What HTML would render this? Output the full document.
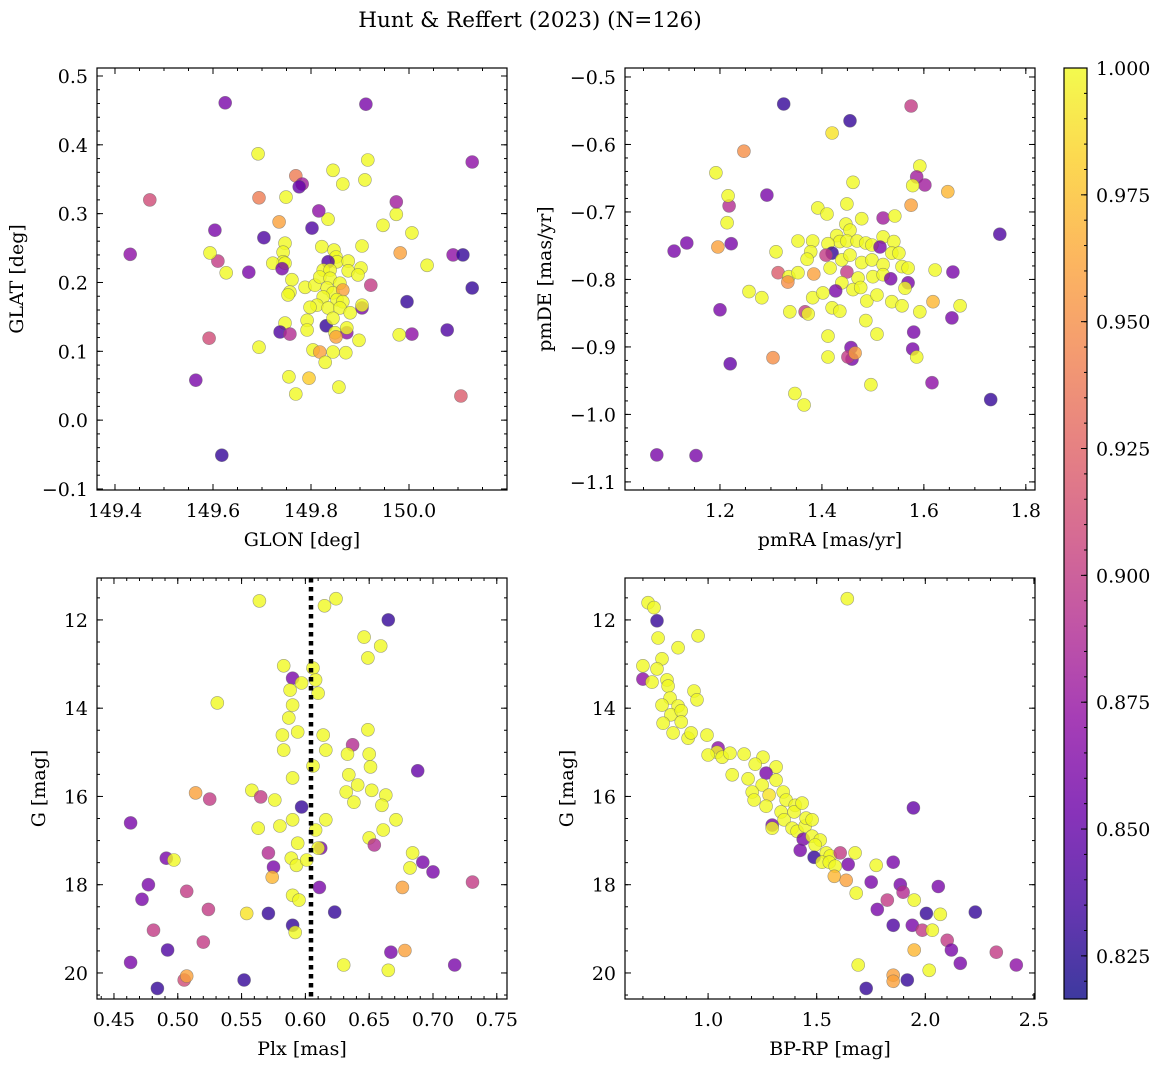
<!DOCTYPE html>
<html><head><meta charset="utf-8"><style>
html,body{margin:0;padding:0;background:#fff;}
svg{display:block;font-family:"DejaVu Serif","Liberation Serif",serif;}
</style></head><body>
<svg id="fig" width="1161" height="1067" viewBox="0 0 1161 1067" xmlns="http://www.w3.org/2000/svg">
<defs>
<linearGradient id="plasma" x1="0" y1="1" x2="0" y2="0">
<stop offset="0" stop-color="#0d0887"/><stop offset="0.1" stop-color="#41049d"/><stop offset="0.2" stop-color="#6a00a8"/><stop offset="0.3" stop-color="#8f0da4"/><stop offset="0.4" stop-color="#b12a90"/><stop offset="0.5" stop-color="#cc4778"/><stop offset="0.6" stop-color="#e16462"/><stop offset="0.7" stop-color="#f2844b"/><stop offset="0.8" stop-color="#fca636"/><stop offset="0.9" stop-color="#fcce25"/><stop offset="1" stop-color="#f0f921"/>
</linearGradient>
</defs>
<text x="530" y="27" font-size="21.5" text-anchor="middle">Hunt &amp; Reffert (2023) (N=126)</text>
</svg>
<script>
// ---- data ----
const p1Lon=[149.471,149.431,149.625,149.912,150.129,149.604,149.610,149.627,149.594,149.592,149.565,149.618,150.006,149.982,149.996,150.006,150.037,150.078,150.090,150.110,150.129,150.106,149.980,
149.747,149.743,149.743,149.722,149.747,149.741,149.761,149.757,149.753,149.788,149.808,149.822,149.847,149.851,149.853,149.835,149.876,149.876,149.902,149.896,149.904,149.922,149.825,149.839,149.818,149.839,149.859,149.833,149.845,149.865,149.825,149.853,149.865,149.812,149.798,149.835,149.859,149.880,149.904,149.904,149.792,149.831,149.845,149.792,149.747,149.737,149.757,149.849,149.873,149.851,149.873,149.898,149.694,149.804,149.818,149.845,149.871,149.829,149.755,149.796,149.857,149.769,149.692,149.845,149.916,149.865,149.910,149.749,149.694,149.769,149.782,149.776,149.735,149.835,149.816,149.802,149.704,149.673,149.947,149.974,149.974];
const p1Lat=[0.320,0.241,0.461,0.459,0.375,0.276,0.231,0.214,0.243,0.119,0.058,-0.051,0.272,0.243,0.172,0.125,0.225,0.131,0.240,0.240,0.192,0.035,0.124,
0.257,0.244,0.230,0.228,0.228,0.220,0.204,0.186,0.182,0.193,0.196,0.252,0.247,0.237,0.230,0.230,0.231,0.217,0.221,0.211,0.253,0.196,0.218,0.218,0.208,0.206,0.199,0.192,0.185,0.189,0.179,0.175,0.172,0.167,0.164,0.163,0.163,0.156,0.163,0.167,0.145,0.137,0.148,0.131,0.141,0.128,0.125,0.127,0.127,0.121,0.134,0.116,0.106,0.102,0.099,0.099,0.098,0.084,0.063,0.061,0.048,0.038,0.387,0.363,0.378,0.343,0.349,0.324,0.323,0.355,0.343,0.339,0.288,0.292,0.304,0.279,0.265,0.215,0.283,0.299,0.317];
const p1C=[0.91,0.87,0.86,0.86,0.87,0.86,0.90,1,1,0.91,0.86,0.83,1,0.96,0.83,0.87,1,0.84,0.87,0.83,0.83,0.92,1,
1,1,1,1,1,0.86,1,1,1,1,1,1,1,1,1,0.84,1,1,1,1,1,0.90,1,1,1,1,1,1,1,0.96,1,1,1,1,1,1,1,1,0.86,1,1,0.83,1,1,1,0.84,0.89,1,0.87,0.96,1,1,1,1,0.96,1,1,1,1,0.98,1,1,1,1,1,1,1,1,0.94,0.94,0.88,0.85,0.96,1,0.87,0.84,0.84,0.86,1,1,0.88];

const p2RA=[1.076,1.153,1.110,1.135,1.218,1.222,1.200,1.220,1.192,1.196,1.214,1.216,1.247,1.257,1.292,1.304,1.325,1.420,1.455,1.575,1.592,1.586,1.602,1.647,1.578,1.749,1.671,1.657,1.655,1.622,1.618,1.616,1.731,1.580,1.578,1.586,1.575,1.496,1.347,1.365,1.310,1.282,1.314,1.337,1.457,1.459,1.451,1.465,1.461,
1.392,1.410,1.449,1.478,1.520,1.543,1.447,1.455,1.353,1.382,1.429,1.435,1.449,1.469,1.486,1.498,1.520,1.541,1.378,1.371,1.412,1.420,1.408,1.439,1.455,1.478,1.498,1.514,1.520,1.537,1.551,1.557,1.569,1.416,1.449,1.471,1.500,1.520,1.535,1.569,1.563,1.335,1.333,1.353,1.384,1.439,1.427,1.461,1.476,1.382,1.402,1.488,1.508,1.537,1.557,1.592,1.367,1.373,1.420,1.435,1.412,1.486,1.508,1.412];
const p2DE=[-1.060,-1.061,-0.758,-0.746,-0.691,-0.747,-0.845,-0.925,-0.642,-0.752,-0.716,-0.676,-0.610,-0.818,-0.675,-0.916,-0.540,-0.583,-0.565,-0.543,-0.632,-0.648,-0.660,-0.670,-0.661,-0.733,-0.839,-0.789,-0.857,-0.786,-0.833,-0.953,-0.978,-0.878,-0.903,-0.915,-0.690,-0.956,-0.969,-0.986,-0.759,-0.827,-0.790,-0.848,-0.901,-0.918,-0.915,-0.909,-0.656,
-0.694,-0.703,-0.688,-0.710,-0.709,-0.706,-0.718,-0.727,-0.743,-0.743,-0.735,-0.744,-0.743,-0.743,-0.746,-0.749,-0.737,-0.744,-0.759,-0.770,-0.747,-0.761,-0.764,-0.771,-0.764,-0.775,-0.771,-0.752,-0.778,-0.761,-0.761,-0.781,-0.783,-0.783,-0.789,-0.798,-0.796,-0.793,-0.799,-0.805,-0.813,-0.796,-0.804,-0.790,-0.792,-0.805,-0.817,-0.815,-0.812,-0.827,-0.820,-0.832,-0.823,-0.833,-0.839,-0.848,-0.848,-0.851,-0.842,-0.847,-0.884,-0.861,-0.881,-0.915];
const p2C=[0.86,0.86,0.86,0.86,0.89,0.86,0.86,0.85,1,0.96,1,1,0.95,1,0.86,0.95,0.83,0.99,0.83,0.90,1,0.88,0.88,0.97,1,0.84,1,0.86,0.86,1,0.97,0.87,0.83,0.86,0.86,1,0.96,1,1,1,1,1,0.92,1,0.86,0.86,0.90,0.96,1,
1,1,1,1,0.88,1,1,1,1,1,1,1,1,1,1,1,1,1,1,1,1,0.83,0.90,1,1,1,1,0.86,1,1,1,1,1,1,0.90,1,1,1,0.86,0.86,1,1,0.95,1,0.96,1,0.86,1,1,1,1,1,1,1,1,1,0.90,1,1,1,1,1,1,1];

const p3Plx=[0.564,0.615,0.624,0.665,0.646,0.659,0.649,0.583,0.606,0.608,0.590,0.597,0.588,0.610,0.590,0.531,0.587,0.594,0.614,0.582,0.649,0.637,0.583,0.616,0.633,0.650,0.590,0.634,0.606,0.632,0.638,0.651,0.652,0.663,0.641,0.688,0.558,0.514,0.525,0.565,0.576,0.597,0.590,0.580,0.563,0.594,0.608,0.650,0.654,0.671,0.661,0.660,0.616,0.612,0.571,0.575,0.589,0.593,0.601,0.610,0.574,0.590,0.611,0.595,0.590,0.592,0.571,0.554,0.623,0.682,0.692,0.700,0.684,0.676,0.731,0.630,0.665,0.667,0.678,0.717,0.463,0.491,0.497,0.477,0.472,0.507,0.481,0.524,0.520,0.492,0.463,0.484,0.505,0.507,0.552];
const p3G=[11.57,11.68,11.52,12.00,12.39,12.59,12.86,13.04,13.09,13.36,13.32,13.43,13.59,13.66,13.93,13.88,14.22,14.54,14.61,14.61,14.49,14.83,14.95,14.95,15.04,15.04,15.58,15.51,15.31,15.90,16.13,15.33,15.86,15.97,15.74,15.42,15.86,15.92,16.06,16.01,16.08,16.24,16.53,16.67,16.72,17.06,16.76,16.94,17.10,16.53,16.76,16.20,16.53,17.17,17.28,17.60,17.40,17.56,17.44,17.17,17.83,18.24,18.06,18.35,18.92,19.08,18.65,18.65,18.62,17.62,17.49,17.71,17.28,18.06,17.94,19.82,19.94,19.53,19.49,19.82,16.60,17.40,17.44,18.00,18.33,18.15,19.03,18.56,19.30,19.48,19.76,20.35,20.16,20.07,20.16];
const p3C=[1,1,1,0.83,1,1,1,1,1,1,0.86,1,1,1,1,1,1,1,1,1,1,0.89,1,1,1,1,1,1,1,1,1,1,1,1,1,0.85,1,0.96,0.90,0.90,1,0.83,1,1,1,1,1,1,0.89,1,1,1,1,0.86,0.89,0.86,1,1,1,1,0.97,1,0.86,1,0.83,1,0.83,0.99,0.83,1,0.86,0.86,1,0.96,0.90,1,1,0.86,0.96,0.86,0.86,0.86,1,0.86,0.86,0.90,0.90,0.90,0.90,0.84,0.86,0.83,0.91,0.96,0.83];

const p4BR=[0.724,0.751,0.765,1.641,0.954,0.862,0.770,0.788,0.700,0.700,0.765,0.742,0.811,0.816,0.825,0.935,0.949,0.862,0.788,0.829,0.876,0.793,0.839,0.908,0.922,0.876,0.995,1.046,1.041,1.000,1.065,1.101,1.166,1.253,1.217,1.313,1.267,1.111,1.184,1.313,1.249,1.203,1.281,1.212,1.346,1.267,1.336,1.359,1.401,1.396,1.433,1.295,1.295,1.350,1.387,1.410,1.447,1.451,1.479,1.438,1.479,1.516,1.424,1.493,1.488,1.544,1.562,1.525,1.558,1.585,1.581,1.608,1.677,1.645,1.636,1.682,1.774,1.751,1.852,1.945,1.779,1.825,1.852,1.885,1.898,1.949,2.060,1.940,2.005,1.986,2.032,2.069,2.101,2.120,2.161,2.230,2.327,2.419,1.691,1.728,1.852,1.852,1.917,1.949,2.018];
const p4G=[11.61,11.72,12.02,11.52,12.36,12.63,12.41,12.88,13.04,13.34,13.11,13.41,13.36,13.50,13.77,13.61,13.81,13.95,13.93,14.15,14.06,14.34,14.56,14.68,14.56,14.31,14.61,14.90,15.00,15.06,15.11,15.02,15.04,15.11,15.27,15.33,15.47,15.51,15.60,15.63,15.74,15.90,15.97,16.08,15.90,16.22,16.35,16.08,16.20,16.35,16.15,16.65,16.72,16.53,16.72,16.79,16.67,16.49,16.53,16.97,16.90,16.99,17.22,17.10,17.38,17.28,17.35,17.49,17.49,17.58,17.81,17.28,17.28,17.54,17.90,18.19,17.56,17.94,17.49,16.26,18.56,18.35,18.92,18.00,18.17,18.35,18.04,18.92,18.65,19.03,19.03,18.67,19.26,19.48,19.78,18.62,19.53,19.82,19.82,20.35,20.05,20.19,20.16,19.48,19.94];
const p4C=[1,1,0.83,1,1,1,1,1,1,0.87,1,1,1,1,1,1,1,1,1,1,1,1,1,1,1,1,1,0.87,1,1,1,1,1,1,1,1,0.86,1,1,1,1,1,0.99,1,1,1,1,1,1,1,1,0.86,1,1,1,1,1,1,1,0.86,1,1,0.86,1,0.83,1,1,1,1,1,0.97,0.90,1,0.86,0.96,1,1,0.86,0.86,0.85,0.86,0.90,0.84,0.86,0.89,1,0.86,0.86,0.83,0.90,1,1,0.90,0.86,0.86,0.83,0.90,0.87,1,0.83,0.96,0.96,0.83,0.97,1];

const cbTicks=[0.825,0.850,0.875,0.900,0.925,0.950,0.975,1.000];
const plxLine=[0.6044];

// ---- helpers ----
const NS="http://www.w3.org/2000/svg";
const svg=document.getElementById('fig');
const TICKFS=19, LABFS=19;
function mk(tag,attrs,parent){const e=document.createElementNS(NS,tag);for(const k in attrs)e.setAttribute(k,attrs[k]);(parent||svg).appendChild(e);return e;}
const stops=[[13,8,135],[65,4,157],[106,0,168],[143,13,164],[177,42,144],[204,71,120],[225,100,98],[242,132,75],[252,166,54],[252,206,37],[240,249,33]];
const CMIN=0.8165,CMAX=1.0;
function cmap(v){let t=(v-CMIN)/(CMAX-CMIN);t=Math.max(0,Math.min(1,t))*10;const i=Math.min(9,Math.floor(t)),f=t-i;const a=stops[i],b=stops[i+1];return 'rgb('+[0,1,2].map(k=>Math.round(a[k]+(b[k]-a[k])*f)).join(',')+')';}
function fmt(v,d){let s=v.toFixed(d);if(s.startsWith('-'))s='\u2212'+s.slice(1);return s;}

function axes(o){
  const g=mk('g',{});
  
  
  const X=v=>o.x0+(v-o.xmin)/(o.xmax-o.xmin)*(o.x1-o.x0);
  const Y=o.invY?(v=>o.y0+(v-o.ymin)/(o.ymax-o.ymin)*(o.y1-o.y0)):(v=>o.y1-(v-o.ymin)/(o.ymax-o.ymin)*(o.y1-o.y0));
  const pts=mk('g',{},g);
  
  
  for(let i=0;i<o.xs.length;i++){
    const c=mk('circle',{cx:X(o.xs[i]).toFixed(1),cy:Y(o.ys[i]).toFixed(1),r:6.5,fill:cmap(o.cs[i]),'fill-opacity':0.8,stroke:'#666','stroke-opacity':0.6,'stroke-width':0.6},pts);
    
    
  }
  if(o.extra)o.extra(g,X,Y);
  const fr=mk('rect',{x:o.x0,y:o.y0,width:o.x1-o.x0,height:o.y1-o.y0,fill:'none',stroke:'#000','stroke-width':1.2},g);
  
  
  const tk=mk('g',{stroke:'#000','stroke-width':1},g);
  for(let v=o.xMinorStart;v<=o.xmax+1e-9;v+=o.xMinor){const px=X(v);if(px<o.x0||px>o.x1)continue;mk('line',{x1:px,x2:px,y1:o.y1,y2:o.y1-3},tk);mk('line',{x1:px,x2:px,y1:o.y0,y2:o.y0+3},tk);}
  o.xTicks.forEach(v=>{const px=X(v);mk('line',{x1:px,x2:px,y1:o.y1,y2:o.y1-6},tk);mk('line',{x1:px,x2:px,y1:o.y0,y2:o.y0+6},tk);
    const t=mk('text',{x:px,y:o.y1+27,'font-size':TICKFS,'text-anchor':'middle'},g);t.textContent=fmt(v,o.xDec);
    
    });
  for(let v=o.yMinorStart;v<=o.ymax+1e-9;v+=o.yMinor){const py=Y(v);if(py<o.y0||py>o.y1)continue;mk('line',{y1:py,y2:py,x1:o.x0,x2:o.x0+3},tk);mk('line',{y1:py,y2:py,x1:o.x1,x2:o.x1-3},tk);}
  o.yTicks.forEach(v=>{const py=Y(v);mk('line',{y1:py,y2:py,x1:o.x0,x2:o.x0+6},tk);mk('line',{y1:py,y2:py,x1:o.x1,x2:o.x1-6},tk);
    const t=mk('text',{x:o.x0-9,y:py+7,'font-size':TICKFS,'text-anchor':'end'},g);t.textContent=fmt(v,o.yDec);
    
    });
  const xl=mk('text',{x:(o.x0+o.x1)/2,y:o.y1+56,'font-size':LABFS,'text-anchor':'middle'},g);xl.textContent=o.xlabel;
  
  
  const yx=o.yLabelX,yy=(o.y0+o.y1)/2;
  const yl=mk('text',{x:yx,y:yy,'font-size':LABFS,'text-anchor':'middle',transform:'rotate(-90 '+yx+' '+yy+')'},g);yl.textContent=o.ylabel;
  
  
}

axes({name:'glon-glat-panel',x0:97,x1:507,y0:68,y1:490,xmin:149.3633,xmax:150.2,ymin:-0.1015,ymax:0.5116,
 xs:p1Lon,ys:p1Lat,cs:p1C,xTicks:[149.4,149.6,149.8,150.0],xDec:1,xMinor:0.05,xMinorStart:149.4,
 yTicks:[-0.1,0,0.1,0.2,0.3,0.4,0.5],yDec:1,yMinor:0.02,yMinorStart:-0.1,xlabel:'GLON [deg]',ylabel:'GLAT [deg]',yLabelX:23});
axes({name:'proper-motion-panel',x0:625,x1:1035,y0:68,y1:490,xmin:1.0137,xmax:1.818,ymin:-1.112,ymax:-0.4867,
 xs:p2RA,ys:p2DE,cs:p2C,xTicks:[1.2,1.4,1.6,1.8],xDec:1,xMinor:0.05,xMinorStart:1.05,
 yTicks:[-1.1,-1.0,-0.9,-0.8,-0.7,-0.6,-0.5],yDec:1,yMinor:0.02,yMinorStart:-1.1,xlabel:'pmRA [mas/yr]',ylabel:'pmDE [mas/yr]',yLabelX:551});
axes({name:'parallax-magnitude-panel',x0:97,x1:507,y0:578,y1:999,xmin:0.4367,xmax:0.758,ymin:11.05,ymax:20.59,invY:true,
 xs:p3Plx,ys:p3G,cs:p3C,xTicks:[0.45,0.5,0.55,0.6,0.65,0.7,0.75],xDec:2,xMinor:0.01,xMinorStart:0.44,
 yTicks:[12,14,16,18,20],yDec:0,yMinor:0.5,yMinorStart:11.5,xlabel:'Plx [mas]',ylabel:'G [mag]',yLabelX:45,
 extra:(g,X,Y)=>{plxLine.forEach(v=>{const l=mk('line',{x1:X(v),x2:X(v),y1:578,y2:999,stroke:'#000','stroke-width':4.5,'stroke-dasharray':'4.5 4.5'},g);
   
   });}});
axes({name:'color-magnitude-panel',x0:625,x1:1035,y0:578,y1:999,xmin:0.6175,xmax:2.505,ymin:11.05,ymax:20.59,invY:true,
 xs:p4BR,ys:p4G,cs:p4C,xTicks:[1.0,1.5,2.0,2.5],xDec:1,xMinor:0.1,xMinorStart:0.7,
 yTicks:[12,14,16,18,20],yDec:0,yMinor:0.5,yMinorStart:11.5,xlabel:'BP-RP [mag]',ylabel:'G [mag]',yLabelX:573});

// colorbar
(function(){
  const g=mk('g',{});
  
  
  const x0=1064,x1=1087,y0=68,y1=999;
  const Y=v=>y1-(v-CMIN)/(CMAX-CMIN)*(y1-y0);
  mk('rect',{x:x0,y:y0,width:x1-x0,height:y1-y0,fill:'url(#plasma)','fill-opacity':0.8},g);
  mk('rect',{x:x0,y:y0,width:x1-x0,height:y1-y0,fill:'none',stroke:'#000','stroke-width':1.2},g);
  for(let v=0.82;v<=1.0001;v+=0.005){const py=Y(v);if(py<y0||py>y1)continue;mk('line',{x1:x1,x2:x1-3,y1:py,y2:py,stroke:'#000'},g);}
  cbTicks.forEach(v=>{const py=Y(v);mk('line',{x1:x1,x2:x1-6,y1:py,y2:py,stroke:'#000'},g);
    const t=mk('text',{x:x1+9,y:py+7,'font-size':TICKFS},g);t.textContent=v.toFixed(3);
    
    });
})();
</script>
</body></html>
